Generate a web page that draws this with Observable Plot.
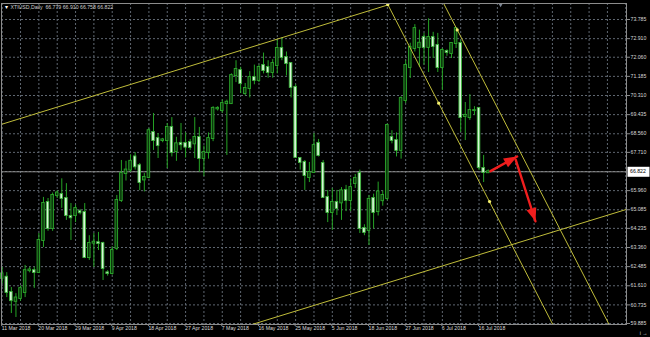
<!DOCTYPE html>
<html>
<head>
<meta charset="utf-8">
<script src="https://cdn.jsdelivr.net/npm/d3@7"></script>
<script src="https://cdn.jsdelivr.net/npm/@observablehq/plot@0.6"></script>
<style>
  html, body { margin: 0; padding: 0; background: #000; }
  #chart { width: 650px; height: 337px; overflow: hidden; }
</style>
</head>
<body>
<div id="chart"></div>
<script>
// XTIUSD daily candles, 11 Mar 2018 – 17 Jul 2018 (one entry per bar)
const opens = [61.95,62.00,61.30,60.90,61.03,61.30,62.30,62.30,62.22,63.68,
  65.42,64.23,65.74,65.78,65.60,64.78,64.82,65.00,64.96,62.90,
  63.56,63.58,63.54,62.20,62.17,63.32,65.51,66.74,66.90,67.50,
  67.10,66.45,66.56,68.62,68.34,68.25,68.25,68.85,67.75,68.12,
  68.12,68.16,68.10,68.39,67.43,67.70,68.34,69.70,69.62,69.94,
  69.94,71.22,71.45,70.40,70.63,71.13,71.00,71.68,71.59,71.36,
  71.68,72.46,72.05,71.77,70.68,67.43,67.25,66.56,66.79,68.12,
  67.20,65.65,64.96,65.42,65.40,65.97,65.51,66.29,66.74,64.23,
  64.14,65.60,65.00,65.50,65.60,68.39,68.25,67.80,70.08,71.59,
  72.46,72.50,72.96,72.51,72.96,72.60,71.59,72.32,72.23,72.69,
  72.69,69.35,69.30,69.62,69.72,66.97,66.779];
const highs = [62.45,62.21,61.53,61.25,61.60,62.54,62.45,62.45,64.00,65.65,
  65.60,65.85,65.95,66.50,66.28,65.37,65.30,65.10,65.37,63.90,
  64.00,64.05,63.60,62.30,63.40,65.74,67.34,67.30,67.60,67.70,
  67.20,66.75,68.80,69.49,68.57,68.35,69.03,69.30,68.40,69.03,
  68.60,68.30,69.30,68.85,68.00,68.60,69.80,69.80,70.10,70.10,
  71.30,71.90,71.60,70.86,71.40,71.70,71.70,72.25,71.90,71.95,
  72.85,72.95,72.30,71.80,70.80,67.45,67.34,67.25,68.57,68.30,
  67.34,65.97,66.06,65.97,66.10,66.20,66.50,66.70,66.90,64.40,
  65.74,65.80,66.35,65.95,69.00,68.70,68.60,70.25,71.90,72.70,
  73.55,73.30,73.15,73.82,73.20,73.15,72.46,72.40,72.70,73.40,
  72.83,69.99,70.35,69.80,69.76,67.57,66.910];
const lows = [61.70,61.07,60.34,60.16,60.90,61.07,62.20,61.49,62.17,63.36,
  64.10,64.10,65.60,65.15,64.60,63.68,64.50,64.85,62.85,62.77,
  62.45,63.22,61.85,62.05,62.10,63.22,65.42,66.40,66.80,66.90,
  65.96,65.90,66.50,67.80,67.43,68.15,66.97,67.50,67.30,67.80,
  67.45,67.80,67.43,66.80,66.60,67.40,68.20,69.60,69.50,67.57,
  69.90,70.90,70.40,70.30,70.20,70.80,70.90,71.30,71.10,71.10,
  71.30,71.90,71.20,70.20,67.43,66.90,65.97,66.33,66.75,67.50,
  65.60,64.50,64.14,64.82,64.60,65.00,65.00,66.06,64.00,63.90,
  63.45,64.20,64.80,65.25,65.50,68.10,67.50,67.40,69.94,71.09,
  72.30,71.60,71.70,71.36,72.00,71.36,70.54,72.10,72.00,72.46,
  68.62,68.25,69.17,69.40,66.88,66.33,66.758];
const closes = [62.15,61.30,60.93,61.05,61.48,62.30,62.33,62.22,63.68,65.37,
  64.23,65.74,65.85,65.60,64.82,64.72,65.14,64.95,62.90,63.54,
  63.60,63.54,62.40,62.17,63.22,65.51,66.74,66.90,67.30,67.05,
  66.33,66.56,68.70,68.25,68.02,68.28,68.85,67.70,68.10,68.06,
  67.95,67.93,68.39,67.43,67.70,68.34,69.72,69.72,69.94,70.00,
  71.22,71.50,70.86,70.63,71.13,71.00,71.59,71.45,71.36,71.77,
  72.46,72.05,71.77,70.68,67.48,67.25,66.65,66.79,68.02,67.57,
  65.65,64.96,65.42,65.14,65.95,65.51,66.10,66.52,64.23,64.05,
  65.56,64.96,65.90,65.74,68.94,68.25,67.80,70.17,71.68,72.51,
  73.37,72.70,72.51,72.96,72.55,71.59,72.37,72.28,72.69,73.37,
  69.30,69.40,69.62,69.62,67.02,66.79,66.822];

// time axis labels, one every 8 bars
const dateLabels = ["11 Mar 2018","20 Mar 2018","29 Mar 2018","9 Apr 2018","18 Apr 2018",
  "27 Apr 2018","7 May 2018","16 May 2018","25 May 2018","5 Jun 2018","18 Jun 2018",
  "27 Jun 2018","6 Jul 2018","16 Jul 2018"];
const labelStep = 8;
const gridStep = 4;

// price axis labels
const priceTicks = [73.785,72.910,72.060,71.185,70.310,69.435,68.560,67.710,
  65.960,65.085,64.235,63.360,62.485,61.610,60.735,59.885];
const gridOnlyPrice = [66.835];

const symbolName = "XTIUSD,Daily";

// drawn objects (bar index, price)
const ascUpper = [{i: -0.33, p: 68.98}, {i: 84.10, p: 74.45}];
const ascLower = [{i: 50.0, p: 59.55}, {i: 140.0, p: 65.35}];
const descMain = [{i: 84.10, p: 74.47}, {i: 122.0, p: 59.06}];
const descParallel = [{i: 95.0, p: 75.04}, {i: 134.0, p: 59.17}];
const channelPoints = [{i: 84.10, p: 74.47}, {i: 95.2, p: 69.96}, {i: 106.3, p: 65.46}, {i: 99.24, p: 73.31}];
const arrowUp = [{i: 106.5, p: 66.85}, {i: 112.3, p: 67.52}];
const arrowDown = [{i: 112.0, p: 67.37}, {i: 116.3, p: 64.56}];
const shiftMarkerBar = 108.7;

const candles = opens.map((o, k) => ({i: k, open: o, high: highs[k], low: lows[k], close: closes[k]}));
const bulls = candles.filter(d => d.close >= d.open);
const bears = candles.filter(d => d.close < d.open);
const last = candles[candles.length - 1];

const W = 650, H = 337, mL = 1, mR = 24, mT = 3, mB = 13;
const xDomain = [-0.15, 136.16];
const yDomain = [59.839, 74.517];

const xs = Plot.scale({x: {domain: xDomain, range: [mL, W - mR]}});
const ys = Plot.scale({y: {domain: yDomain, range: [H - mB, mT]}});

function headOf(seg) {
  const [a, b] = seg;
  const dx = xs.apply(b.i) - xs.apply(a.i);
  const dy = ys.apply(b.p) - ys.apply(a.p);
  return {i: b.i, p: b.p, angle: Math.atan2(dx, -dy) * 180 / Math.PI};
}
const heads = [headOf(arrowUp), headOf(arrowDown)];

// filled arrow head, tip at the origin pointing up
const arrowHead = {
  draw(ctx, size) {
    const s = Math.sqrt(size / Math.PI);
    ctx.moveTo(0, 0);
    ctx.lineTo(-0.85 * s, 2.2 * s);
    ctx.lineTo(0.85 * s, 2.2 * s);
    ctx.closePath();
  }
};
// white tag behind the last price
const priceTag = {
  draw(ctx) {
    ctx.rect(0, -5, 22, 10);
  }
};

const xTicks = dateLabels.map((_, k) => k * labelStep);
const xGrid = d3.range(0, xDomain[1], gridStep);

const gridColor = "#5f6771";
const lineColor = "#bfbc3a";
const red = "#f01e1e";

const chart = Plot.plot({
  width: W, height: H,
  marginLeft: mL, marginRight: mR, marginTop: mT, marginBottom: mB,
  style: {background: "#000", color: "#d4d4d4", fontFamily: "'Liberation Sans', Arial, sans-serif", fontSize: "5.2px"},
  x: {domain: xDomain, axis: null},
  y: {domain: yDomain, axis: null},
  marks: [
    Plot.ruleY(priceTicks.concat(gridOnlyPrice), {stroke: gridColor, strokeDasharray: "2,2"}),
    Plot.ruleX(xGrid, {stroke: gridColor, strokeDasharray: "2,2"}),
    Plot.ruleY([last.close], {stroke: "#8a8a8a"}),
    Plot.ruleX(candles, {x: "i", y1: "low", y2: "high", stroke: "#25a325", strokeWidth: 1}),
    Plot.rect(bulls, {x1: d => d.i - 0.28, x2: d => d.i + 0.28, y1: "open", y2: "close",
      fill: "#0c360c", stroke: "#2ca82c", strokeWidth: 0.9, insetTop: -0.5, insetBottom: -0.5}),
    Plot.rect(bears, {x1: d => d.i - 0.28, x2: d => d.i + 0.28, y1: "open", y2: "close",
      fill: "#d8f6d8", stroke: "#3cb43c", strokeWidth: 0.9, insetTop: -0.5, insetBottom: -0.5}),
    Plot.line(ascUpper, {x: "i", y: "p", stroke: lineColor, strokeWidth: 1, clip: true}),
    Plot.line(ascLower, {x: "i", y: "p", stroke: lineColor, strokeWidth: 1, clip: true}),
    Plot.line(descMain, {x: "i", y: "p", stroke: lineColor, strokeWidth: 1, clip: true}),
    Plot.line(descParallel, {x: "i", y: "p", stroke: lineColor, strokeWidth: 1, clip: true}),
    Plot.dot(channelPoints, {x: "i", y: "p", r: 1.6, fill: "#f4f070"}),
    Plot.line(arrowUp, {x: "i", y: "p", stroke: red, strokeWidth: 2.4}),
    Plot.line(arrowDown, {x: "i", y: "p", stroke: red, strokeWidth: 2.4}),
    Plot.dot(heads, {x: "i", y: "p", rotate: "angle", symbol: arrowHead, r: 6, fill: red, stroke: "none"}),
    Plot.dot([shiftMarkerBar], {x: d => d, frameAnchor: "top", symbol: "triangle", rotate: 180, r: 1.8, fill: "#7d8796", dy: 1}),
    Plot.frame({stroke: "#8c8c8c"}),
    // price scale on the right
    Plot.axisY(priceTicks, {anchor: "right", tickSize: 3, tickPadding: 1, tickFormat: d3.format(".3f"),
      stroke: "#8c8c8c", fill: "#d8d8d8", fontSize: 5.2}),
    // last price tag
    Plot.dot([last], {x: () => xDomain[1], y: "close", symbol: priceTag, fill: "#ffffff", stroke: "none", dx: 1, clip: false}),
    Plot.text([last], {x: () => xDomain[1], y: "close", text: d => d3.format(".3f")(d.close), textAnchor: "start",
      dx: 3.5, fill: "#000", fontSize: 5.2}),
    // time scale at the bottom
    Plot.axisX(xTicks, {anchor: "bottom", tickSize: 2, tickPadding: 0, textAnchor: "start", dx: -0.5,
      tickFormat: (d, k) => dateLabels[k], stroke: "#8c8c8c", fill: "#d8d8d8", fontSize: 5.2}),
    // symbol header
    Plot.text(["▾"], {frameAnchor: "top-left", dx: 3, dy: 1.5, fill: "#ffffff", fontSize: 6}),
    Plot.text([`${symbolName}  ${d3.format(".3f")(last.open)} ${d3.format(".3f")(last.high)} ${d3.format(".3f")(last.low)} ${d3.format(".3f")(last.close)}`],
      {frameAnchor: "top-left", dx: 9, dy: 2, fill: "#cfcfcf", fontSize: 5.2})
  ]
});

document.getElementById("chart").appendChild(chart);
</script>
</body>
</html>
